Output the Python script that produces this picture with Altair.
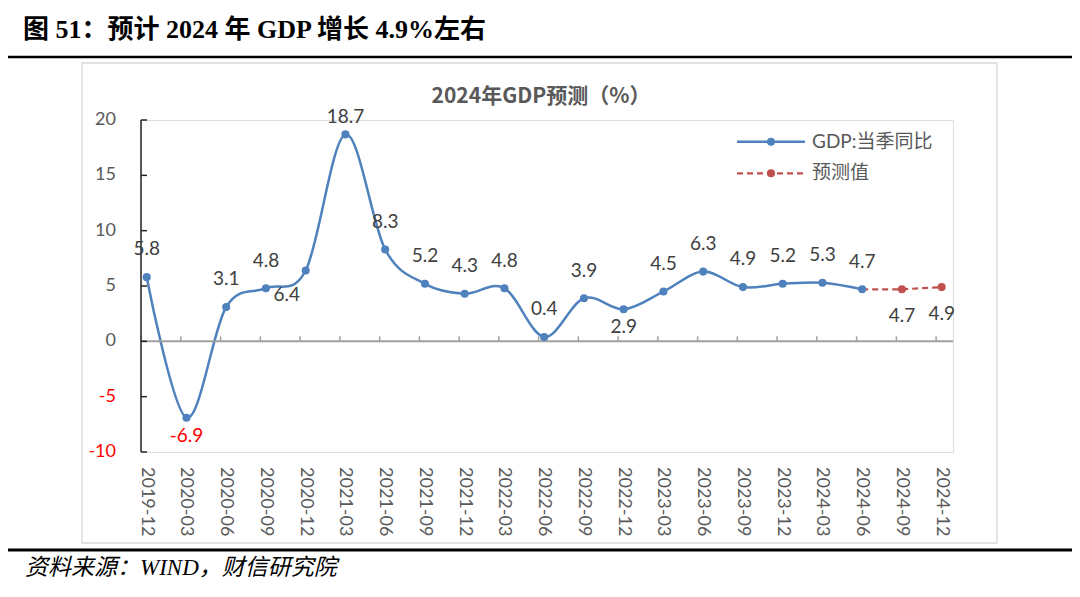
import altair as alt
import pandas as pd

# ---------------- data ----------------
dates = ["2019-12", "2020-03", "2020-06", "2020-09", "2020-12",
         "2021-03", "2021-06", "2021-09", "2021-12",
         "2022-03", "2022-06", "2022-09", "2022-12",
         "2023-03", "2023-06", "2023-09", "2023-12",
         "2024-03", "2024-06", "2024-09", "2024-12"]
gdp_values = [5.8, -6.9, 3.1, 4.8, 6.4, 18.7, 8.3, 5.2, 4.3, 4.8,
              0.4, 3.9, 2.9, 4.5, 6.3, 4.9, 5.2, 5.3, 4.7]
forecast_dates = ["2024-06", "2024-09", "2024-12"]
forecast_values = [4.7, 4.7, 4.9]
y_ticks = [-10, -5, 0, 5, 10, 15, 20]
series_names = ["GDP:当季同比", "预测值"]
labels_below = ["2020-03", "2022-12"]
labels_below_left = ["2020-12"]

main_title = "图 51：预计 2024 年 GDP 增长 4.9%左右"
chart_title = "2024年GDP预测（%）"
source_note = "资料来源：WIND，财信研究院"

BLUE = "#4F81BD"
RED = "#C0504D"
GRAY_TXT = "#595959"
LBL_TXT = "#404040"
AXIS_CLR = "#262626"
NUM_FONT = "Lato, Noto Sans CJK SC"
LBL_SIZE = 19

W, H = 812, 332

main_df = pd.DataFrame({
    "idx": [dates.index(d) for d in dates[:len(gdp_values)]],
    "date": dates[:len(gdp_values)],
    "value": gdp_values,
})
fc_df = pd.DataFrame({
    "idx": [dates.index(d) for d in forecast_dates],
    "date": forecast_dates,
    "value": forecast_values,
})
xcat_df = pd.DataFrame({"idx": list(range(len(dates))), "date": dates})
ytick_df = pd.DataFrame({"value": y_ticks, "lab": [str(v) for v in y_ticks]})
yrange_df = pd.DataFrame({"lo": [min(y_ticks)], "hi": [max(y_ticks)]})

xs = alt.Scale(domain=[-0.1434, 20.285], nice=False, zero=False)
ys = alt.Scale(domain=[-10, 20], nice=False, zero=False)


def X(field):
    return alt.X(field, scale=xs, axis=None)


def Y(field):
    return alt.Y(field, scale=ys, axis=None)


# ---------------- axes (drawn from the tick arrays through the scales) ----------------
zero_line = alt.Chart(ytick_df).transform_filter(alt.datum.value == 0).mark_rule(
    color="#A0A0A0", strokeWidth=2
).encode(y=Y("value:Q"), x=alt.value(0), x2=alt.value(W))

x_ticks = alt.Chart(xcat_df).transform_calculate(
    tx="datum.idx - 0.14", t0="0", t1="0.45"
).mark_rule(color="#A0A0A0", strokeWidth=1.5).encode(
    x=X("tx:Q"), y=Y("t0:Q"), y2="t1:Q",
)

x_labels = alt.Chart(xcat_df).mark_text(
    angle=90, align="left", baseline="middle", fontSize=18, font=NUM_FONT, color=GRAY_TXT
).encode(x=X("idx:Q"), y=alt.value(H + 15), text="date:N")

y_domain = alt.Chart(yrange_df).mark_rule(
    color=AXIS_CLR, strokeWidth=1.5
).encode(x=alt.value(0), y=Y("lo:Q"), y2="hi:Q")

y_tick_marks = alt.Chart(ytick_df).mark_rule(color=AXIS_CLR, strokeWidth=1.5).encode(
    y=Y("value:Q"), x=alt.value(0), x2=alt.value(6)
)

y_labels = alt.Chart(ytick_df).mark_text(
    align="right", baseline="middle", fontSize=18, font=NUM_FONT
).encode(
    y=Y("value:Q"), x=alt.value(-25), text="lab:N",
    color=alt.condition("datum.value < 0", alt.value("#FF0000"), alt.value(GRAY_TXT)),
)

# ---------------- series ----------------
main_line = alt.Chart(main_df).mark_line(
    color=BLUE, strokeWidth=2.5, interpolate="cardinal"
).encode(x=X("idx:Q"), y=Y("value:Q"))
main_pts = alt.Chart(main_df).mark_circle(color=BLUE, size=65, opacity=1).encode(
    x=X("idx:Q"), y=Y("value:Q"))

fc_line = alt.Chart(fc_df).mark_line(
    color=RED, strokeWidth=2.2, strokeDash=[6, 4]
).encode(x=X("idx:Q"), y=Y("value:Q"))
fc_pts = alt.Chart(fc_df).transform_filter(
    alt.datum.idx > len(gdp_values) - 1
).mark_circle(color=RED, size=65, opacity=1).encode(x=X("idx:Q"), y=Y("value:Q"))

# ---------------- data labels ----------------
txt_calc = "replace(format(datum.value, '.1f'), '\u2212', '-')"
below_all = labels_below + labels_below_left
lbl_above = alt.Chart(main_df).transform_filter(
    {"not": alt.FieldOneOfPredicate(field="date", oneOf=below_all)}
).transform_calculate(
    ly="min(datum.value + 2.5, 20.3)", lbl=txt_calc
).mark_text(fontSize=LBL_SIZE, font=NUM_FONT, color=LBL_TXT, baseline="middle").encode(
    x=X("idx:Q"), y=Y("ly:Q"), text="lbl:N")
lbl_below = alt.Chart(main_df).transform_filter(
    alt.FieldOneOfPredicate(field="date", oneOf=labels_below)
).transform_calculate(lbl=txt_calc).mark_text(
    fontSize=LBL_SIZE, font=NUM_FONT, baseline="middle", dy=18
).encode(
    x=X("idx:Q"), y=Y("value:Q"), text="lbl:N",
    color=alt.condition("datum.value < 0", alt.value("#FF0000"), alt.value(LBL_TXT)),
)
lbl_below_left = alt.Chart(main_df).transform_filter(
    alt.FieldOneOfPredicate(field="date", oneOf=labels_below_left)
).transform_calculate(lbl=txt_calc).mark_text(
    fontSize=LBL_SIZE, font=NUM_FONT, color=LBL_TXT, baseline="middle", dy=24, dx=-19
).encode(x=X("idx:Q"), y=Y("value:Q"), text="lbl:N")
lbl_fc = alt.Chart(fc_df).transform_filter(
    alt.datum.idx > len(gdp_values) - 1
).transform_calculate(lbl=txt_calc).mark_text(
    fontSize=LBL_SIZE, font=NUM_FONT, color=LBL_TXT, baseline="middle", dy=27
).encode(x=X("idx:Q"), y=Y("value:Q"), text="lbl:N")

# ---------------- page furniture ----------------
one = alt.Data(values=[{}])

frame = alt.Chart(one).mark_rect(
    fillOpacity=0, stroke="#D9D9D9", strokeWidth=1.3
).encode(x=alt.value(-59), x2=alt.value(856), y=alt.value(-57), y2=alt.value(423))

top_rule = alt.Chart(one).mark_rule(color="#000000", strokeWidth=2.5).encode(
    x=alt.value(-133), x2=alt.value(931), y=alt.value(-63))
bottom_rule = alt.Chart(one).mark_rule(color="#000000", strokeWidth=3).encode(
    x=alt.value(-133), x2=alt.value(931), y=alt.value(430))

title_txt = alt.Chart(pd.DataFrame({"t": [main_title]})).mark_text(
    font="Liberation Serif, Noto Sans CJK SC", fontSize=26, fontWeight="bold",
    color="#000000", align="left", baseline="middle"
).encode(x=alt.value(-118), y=alt.value(-90), text="t:N")

chart_title_txt = alt.Chart(pd.DataFrame({"t": [chart_title]})).mark_text(
    font="Noto Sans CJK SC", fontSize=21, fontWeight="bold",
    color=GRAY_TXT, align="center", baseline="middle"
).encode(x=alt.value(400), y=alt.value(-23), text="t:N")

source_txt = alt.Chart(pd.DataFrame({"t": [source_note]})).mark_text(
    font="Liberation Serif, Noto Sans CJK SC", fontSize=23, fontStyle="italic",
    color="#000000", align="left", baseline="middle"
).encode(x=alt.value(-116), y=alt.value(448), text="t:N")

# legend
leg_y = [21.7, 53.3]
leg_line1 = alt.Chart(one).mark_rule(color=BLUE, strokeWidth=2.5).encode(
    x=alt.value(596), x2=alt.value(664), y=alt.value(leg_y[0]))
leg_dot1 = alt.Chart(one).mark_circle(color=BLUE, size=65, opacity=1).encode(
    x=alt.value(630), y=alt.value(leg_y[0]))
leg_line2 = alt.Chart(one).mark_rule(color=RED, strokeWidth=2.2, strokeDash=[6, 4]).encode(
    x=alt.value(596), x2=alt.value(664), y=alt.value(leg_y[1]))
leg_dot2 = alt.Chart(one).mark_circle(color=RED, size=65, opacity=1).encode(
    x=alt.value(630), y=alt.value(leg_y[1]))
leg_txt1 = alt.Chart(pd.DataFrame({"t": [series_names[0]]})).mark_text(
    font=NUM_FONT, fontSize=19, color=GRAY_TXT, align="left", baseline="middle"
).encode(x=alt.value(671), y=alt.value(leg_y[0]), text="t:N")
leg_txt2 = alt.Chart(pd.DataFrame({"t": [series_names[1]]})).mark_text(
    font=NUM_FONT, fontSize=19, color=GRAY_TXT, align="left", baseline="middle"
).encode(x=alt.value(671), y=alt.value(leg_y[1]), text="t:N")

chart = alt.layer(
    main_line, frame, zero_line, x_ticks, x_labels, y_domain, y_tick_marks, y_labels,
    fc_line, main_pts, fc_pts,
    lbl_above, lbl_below, lbl_below_left, lbl_fc,
    top_rule, bottom_rule, title_txt, chart_title_txt, source_txt,
    leg_line1, leg_dot1, leg_line2, leg_dot2, leg_txt1, leg_txt2,
).properties(
    width=W, height=H,
    autosize=alt.AutoSizeParams(type="none"),
    padding={"left": 133, "top": 112, "right": 119, "bottom": 137},
).configure_view(strokeWidth=0).configure(background="#FFFFFF")

chart.save("out.html", embed_options={"renderer": "svg", "actions": False})
